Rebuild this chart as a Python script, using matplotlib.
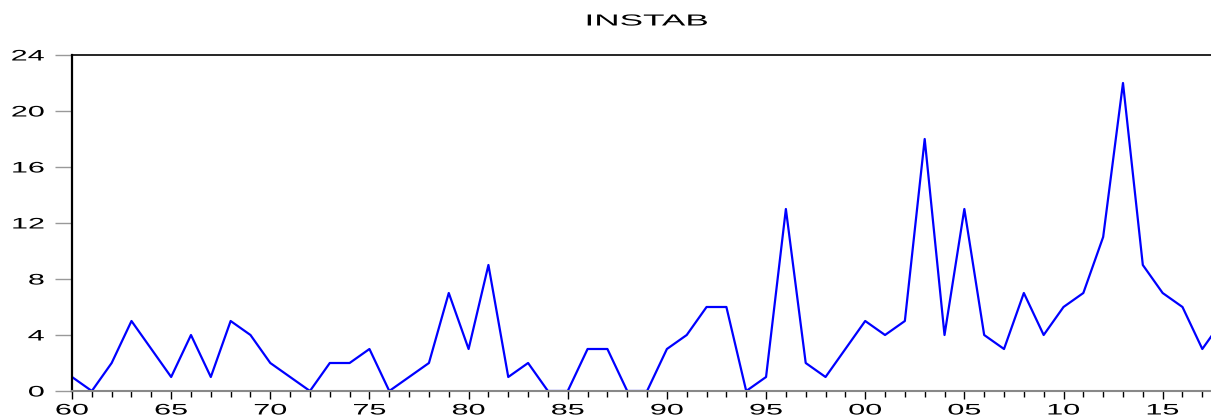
import numpy as np
import matplotlib.pyplot as plt
from matplotlib import patheffects
from matplotlib.transforms import Affine2D

plt.rcParams['font.family'] = ['Liberation Sans', 'DejaVu Sans']

# yearly INSTAB values, 1960-2018
years = np.arange(1960, 2019)
instab = [1, 0, 2, 5, 3, 1, 4, 1, 5, 4,
          2, 1, 0, 2, 2, 3, 0, 1, 2, 7,
          3, 9, 1, 2, 0, 0, 3, 3, 0, 0,
          3, 4, 6, 6, 0, 1, 13, 2, 1, 3,
          5, 4, 5, 18, 4, 13, 4, 3, 7, 4,
          6, 7, 11, 22, 9, 7, 6, 3, 5]

major_years = np.arange(1960, 2016, 5)
major_labels = ["%02d" % (y % 100) for y in major_years]
y_ticks = [0, 4, 8, 12, 16, 20, 24]


# the original uses a very wide font, so stretch glyphs sideways
class Stretch(patheffects.AbstractPathEffect):
    def __init__(self, sx, anchor='center'):
        super().__init__()
        self.sx = sx
        self.anchor = anchor

    def draw_path(self, renderer, gc, tpath, affine, rgbFace=None):
        ext = tpath.get_extents()
        if self.anchor == 'right':
            cx = ext.x1
        elif self.anchor == 'left':
            cx = ext.x0
        else:
            cx = (ext.x0 + ext.x1) / 2
        t = Affine2D().translate(-cx, 0).scale(self.sx, 1).translate(cx, 0) + affine
        renderer.draw_path(gc, tpath, t, rgbFace)


fig = plt.figure(figsize=(12.11, 4.16), dpi=100)
ax = fig.add_axes([72 / 1211, 1 - 391 / 416, 1 - 72 / 1211, (391 - 55) / 416])

ax.plot(years, instab, color='#0000ff', lw=1.6)

ax.set_xticks(major_years)
ax.set_xticklabels(major_labels)
ax.set_xticks(years, minor=True)
ax.set_yticks(y_ticks)
# limits after the ticks, or set_xticks widens the view
ax.set_xlim(1960, 1960 + (1211 - 72) / 19.83)
ax.set_ylim(0, 24)

ax.tick_params(axis='x', which='major', direction='out', length=6, width=1,
               color='black', labelsize=11, pad=3)
ax.tick_params(axis='x', which='minor', direction='out', length=4, width=1,
               color='black')
ax.tick_params(axis='y', direction='out', length=12, width=1, color='#999999',
               labelsize=11, pad=8)

for lab in ax.get_xticklabels():
    lab.set_path_effects([Stretch(2.0, 'center')])
for lab in ax.get_yticklabels():
    lab.set_path_effects([Stretch(2.0, 'right')])

ax.spines['right'].set_visible(False)
ax.spines['left'].set_linewidth(1.6)
ax.spines['top'].set_linewidth(1.2)
ax.spines['bottom'].set_color('#888888')
ax.spines['bottom'].set_linewidth(1.5)

fig.text(647 / 1211, 1 - 21 / 416, "INSTAB", ha='center', va='center',
         fontsize=11.5, path_effects=[Stretch(2.2, 'center')])

fig.savefig('out.png', dpi=100)
